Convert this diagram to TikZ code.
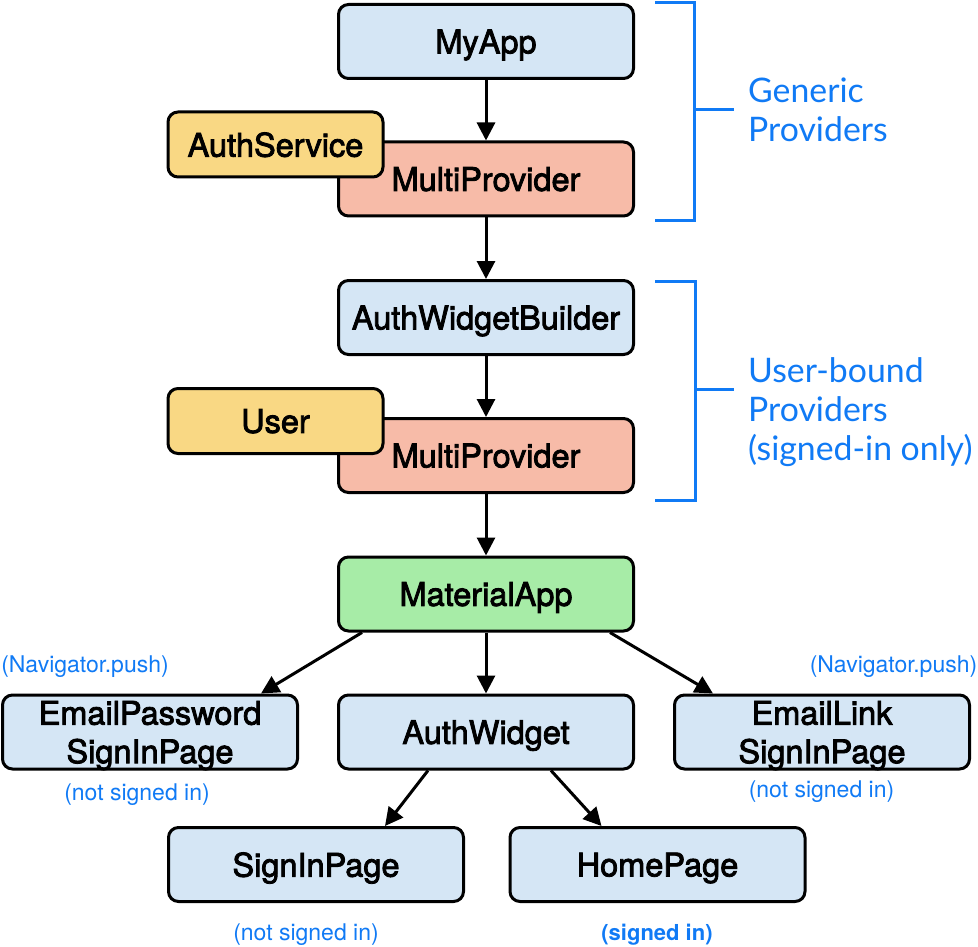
\documentclass[tikz,border=0pt]{standalone}
\usepackage{fontspec}
\setmainfont{TeX Gyre Heros}
\newfontfamily\nodefont{TeX Gyre Heros}[FakeBold=2.5]
\newfontfamily\latofont{Lato}
\usetikzlibrary{arrows.meta,calc}
\definecolor{bfill}{RGB}{213,230,245}
\definecolor{sfill}{RGB}{247,187,168}
\definecolor{yfill}{RGB}{249,216,132}
\definecolor{gfill}{RGB}{167,236,167}
\definecolor{lblue}{RGB}{16,122,245}
\begin{document}
\begin{tikzpicture}[x=1pt,y=-1pt,
  box/.style={draw=black, line width=3pt, rounded corners=10pt,
    minimum width=295pt, minimum height=74pt, inner sep=0pt, align=center,
    text depth=0pt, font=\nodefont\fontsize{32.5}{38.5}\selectfont},
  bluebox/.style={box, fill=bfill},
  salbox/.style={box, fill=sfill},
  greenbox/.style={box, fill=gfill},
  tagbox/.style={box, fill=yfill, minimum width=215pt, minimum height=65pt},
  conn/.style={line width=3pt, -{Triangle[length=18pt,width=18pt]}},
  note/.style={text=lblue, font=\fontsize{23}{27}\selectfont, inner sep=0pt},
  brace/.style={draw=lblue, line width=3pt},
  bracelabel/.style={text=lblue, font=\latofont\fontsize{33.8}{39}\selectfont, inner sep=0pt, anchor=base west}
]
\useasboundingbox (0,0) rectangle (978,947);

% top group
\node[bluebox] (myapp) at (486,41.5) {MyApp};
\node[salbox] (mp1) at (486,179) {MultiProvider};
\node[tagbox] (auths) at (275.5,144.5) {AuthService};

\node[bluebox] (awb) at (486,317.5) {AuthWidgetBuilder};
\node[salbox] (mp2) at (486,455.5) {MultiProvider};
\node[tagbox] (user) at (275.5,421) {User};

\node[greenbox] (ma) at (486,594) {MaterialApp};

\node[bluebox] (ep) at (150,732) {EmailPassword\\SignInPage};
\node[bluebox] (aw) at (486,732) {AuthWidget};
\node[bluebox] (el) at (822,732) {EmailLink\\SignInPage};

\node[bluebox] (sp) at (316,864.5) {SignInPage};
\node[bluebox] (hp) at (657.5,864.5) {HomePage};

% connectors
\draw[conn] (myapp) -- (mp1);
\draw[conn] (mp1) -- (awb);
\draw[conn] (awb) -- (mp2);
\draw[conn] (mp2) -- (ma);
\draw[conn] (ma) -- (aw);
\draw[conn] ($(ma.south west)+(25,0)$) -- ($(ep.north east)+(-38,0)$);
\draw[conn] ($(ma.south east)+(-25,0)$) -- ($(el.north west)+(40,0)$);
\draw[conn] ($(aw.south west)+(91,0)$) -- ($(sp.north)+(69,0)$);
\draw[conn] ($(aw.south east)+(-84,0)$) -- ($(hp.north west)+(93,0)$);

% notes
\node[note] (n1) at (85,667) {(Navigator.push)};
\node[note] (n2) at (137,795) {(not signed in)};
\node[note] (n3) at (893.5,667) {(Navigator.push)};
\node[note] (n4) at (821.5,792) {(not signed in)};
\node[note] (n5) at (306,935) {(not signed in)};
\node[note, font=\bfseries\fontsize{22}{26}\selectfont] (n6) at (657,935) {(signed in)};

% brackets
\draw[brace] (655,2.5) -- (694,2.5) -- (694,221) -- (655,221);
\draw[brace] (694,110) -- (734,110);
\node[bracelabel] (g1) at (748,103) {Generic};
\node[bracelabel] (g2) at (748,142) {Providers};

\draw[brace] (655,281) -- (695,281) -- (695,500) -- (655,500);
\draw[brace] (695,389) -- (734,389);
\node[bracelabel] (u1) at (748,382) {User-bound};
\node[bracelabel] (u2) at (748,421) {Providers};
\node[bracelabel] (u3) at (748,460) {(signed-in only)};
\end{tikzpicture}
\end{document}
